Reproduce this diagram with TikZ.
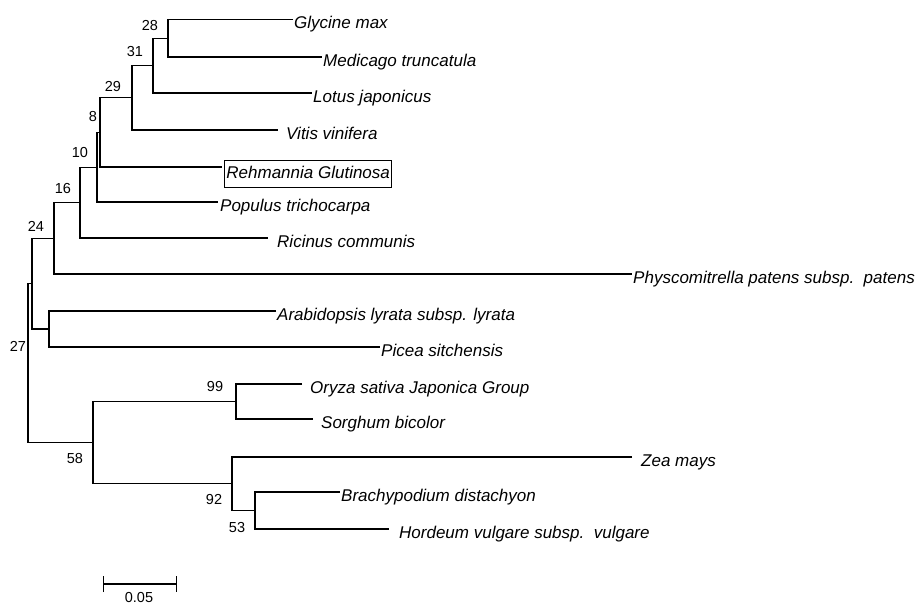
\documentclass[tikz,border=0pt]{standalone}
\usepackage{fontspec}
\setmainfont{Liberation Sans}
\usetikzlibrary{arrows.meta}
\usetikzlibrary{positioning}

\tikzset{
  taxon/.style={font=\fontsize{17}{20}\selectfont\itshape, inner sep=0pt,
    text height=12pt, text depth=3.5pt, yshift=-5pt},
  framed/.style={taxon, draw, line width=0.9pt, inner xsep=2pt, inner ysep=5.5pt, yshift=-2pt},
  boot/.style={font=\fontsize{14.5}{17}\selectfont, inner sep=0pt},
  branch/.style={line width=1.2pt}
}

\begin{document}
\begin{tikzpicture}[x=1pt, y=-1pt]
    \useasboundingbox (0,0) rectangle (917,605);

    % tip ends
    \coordinate (e1) at (293,19.5);
    \coordinate (e2) at (322,57);
    \coordinate (e3) at (312,93);
    \coordinate (e4) at (278,130);
    \coordinate (e5) at (222,167);
    \coordinate (e6) at (218,202);
    \coordinate (e7) at (268,238);
    \coordinate (e8) at (632,274);
    \coordinate (e9) at (276,311);
    \coordinate (e10) at (380,347);
    \coordinate (e11) at (302,384);
    \coordinate (e12) at (313,419);
    \coordinate (e13) at (632,457);
    \coordinate (e14) at (340,492);
    \coordinate (e15) at (389,529);

    % inner nodes
    \coordinate (n28) at (168,38.2);
    \coordinate (n31) at (153,65.6);
    \coordinate (n29) at (132,97.8);
    \coordinate (n8) at (100,132.4);
    \coordinate (n10) at (97,167.2);
    \coordinate (n16) at (80,202.6);
    \coordinate (n24) at (54,238.3);
    \coordinate (nap) at (49,329);
    \coordinate (nb) at (32,283.6);
    \coordinate (n99) at (236,401.5);
    \coordinate (n53) at (255,510.5);
    \coordinate (n92) at (232,483.8);
    \coordinate (n58) at (93,442.6);
    \coordinate (root) at (28,363);

    % taxa
    \node[taxon, right=1pt of e1] (gly) {Glycine max};
    \node[taxon, right=1pt of e2] (med) {Medicago truncatula};
    \node[taxon, right=1pt of e3] (lot) {Lotus japonicus};
    \node[taxon, right=8pt of e4] (vit) {Vitis vinifera};
    \node[framed, right=2pt of e5] (reh) {Rehmannia Glutinosa};
    \node[taxon, right=2pt of e6] (pop) {Populus trichocarpa};
    \node[taxon, right=9pt of e7] (ric) {Ricinus communis};
    \node[taxon, right=1pt of e8] (phy) {Physcomitrella patens subsp.\ \ patens};
    \node[taxon, right=1pt of e9] (ara) {Arabidopsis lyrata subsp. lyrata};
    \node[taxon, right=1pt of e10] (pic) {Picea sitchensis};
    \node[taxon, right=8pt of e11] (ory) {Oryza sativa Japonica Group};
    \node[taxon, right=8pt of e12] (sor) {Sorghum bicolor};
    \node[taxon, right=9pt of e13] (zea) {Zea mays};
    \node[taxon, right=1pt of e14] (bra) {Brachypodium distachyon};
    \node[taxon, right=10pt of e15] (hor) {Hordeum vulgare subsp.\ \ vulgare};

    % branches
    \draw[branch] (e1) -| (n28) |- (e2);
    \draw[branch] (n28) -| (n31) |- (e3);
    \draw[branch] (n31) -| (n29) |- (e4);
    \draw[branch] (n29) -| (n8) |- (e5);
    \draw[branch] (n8) -| (n10) |- (e6);
    \draw[branch] (n10) -| (n16) |- (e7);
    \draw[branch] (n16) -| (n24) |- (e8);
    \draw[branch] (e9) -| (nap) |- (e10);
    \draw[branch] (n24) -| (nb) |- (nap);
    \draw[branch] (e11) -| (n99) |- (e12);
    \draw[branch] (e14) -| (n53) |- (e15);
    \draw[branch] (e13) -| (n92) |- (n53);
    \draw[branch] (n99) -| (n58) |- (n92);
    \draw[branch] (nb) -| (root) |- (n58);

    % bootstrap values
    \node[boot] (b28) at (150,26) {28};
    \node[boot] (b31) at (135,52) {31};
    \node[boot] (b29) at (113,87) {29};
    \node[boot] (b8) at (93,117) {8};
    \node[boot] (b10) at (80,153) {10};
    \node[boot] (b16) at (63,189) {16};
    \node[boot] (b24) at (36,226) {24};
    \node[boot] (b27) at (18,346) {27};
    \node[boot] (b99) at (215,387) {99};
    \node[boot] (b58) at (75,459) {58};
    \node[boot] (b92) at (214,500) {92};
    \node[boot] (b53) at (237,527) {53};

    % scale bar
    \coordinate (sl) at (103,584);
    \coordinate (sr) at (177,584);
    \draw[branch, {Bar[width=16pt]}-{Bar[width=16pt]}] (sl) -- (sr);
    \node[boot] (sc) at (139,597) {0.05};
\end{tikzpicture}
\end{document}
